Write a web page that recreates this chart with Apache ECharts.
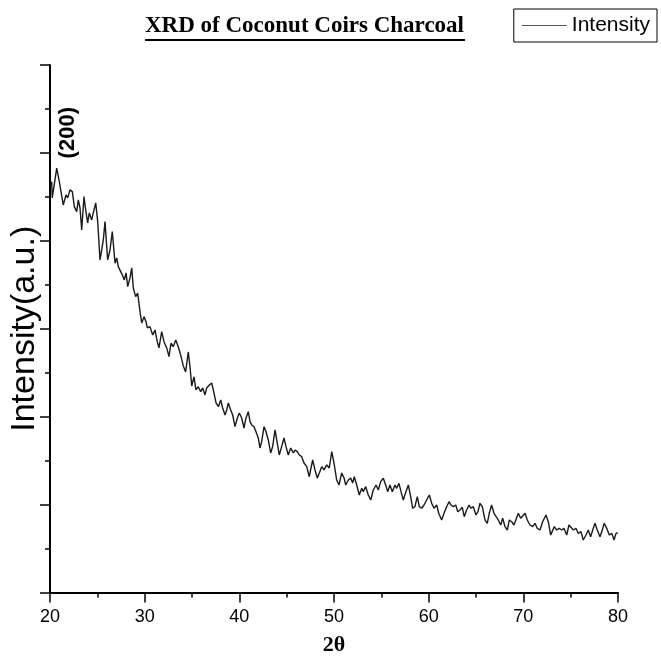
<!DOCTYPE html>
<html><head><meta charset="utf-8">
<script src="https://cdn.jsdelivr.net/npm/echarts@6/dist/echarts.min.js"></script>
<style>html,body{margin:0;padding:0;background:#fff}#c{width:661px;height:667px}</style>
</head><body><div id="c"></div>
<script>
// 2θ positions (degrees)
const twoTheta = [
  20.00,20.18,20.24,20.71,20.95,21.16,21.40,21.69,21.87,22.11,
  22.36,22.57,22.82,22.99,23.17,23.35,23.59,23.77,23.98,24.15,
  24.40,24.57,24.83,25.04,25.28,25.46,25.63,25.81,26.09,26.34,
  26.58,26.87,27.05,27.21,27.47,27.64,27.85,28.03,28.21,28.45,
  28.63,28.80,29.05,29.26,29.51,29.69,29.93,30.14,30.28,30.56,
  30.85,31.09,31.33,31.51,31.80,32.04,32.33,32.57,32.78,33.02,
  33.28,33.55,33.80,34.08,34.33,34.61,34.79,34.97,35.21,35.42,
  35.66,35.92,36.13,36.37,36.55,36.83,37.08,37.25,37.54,37.78,
  38.03,38.24,38.49,38.67,38.83,39.09,39.30,39.54,39.79,40.00,
  40.25,40.49,40.70,40.95,41.13,41.31,41.55,41.76,42.00,42.18,
  42.36,42.61,42.82,43.06,43.31,43.52,43.77,43.95,44.22,44.47,
  44.72,44.93,45.17,45.43,45.70,45.88,46.12,46.33,46.59,46.83,
  47.12,47.39,47.57,47.75,47.99,48.24,48.45,48.70,48.94,49.23,
  49.50,49.76,50.00,50.28,50.53,50.81,51.06,51.24,51.51,51.76,
  51.97,52.14,52.40,52.67,52.93,53.09,53.35,53.62,53.88,54.15,
  54.44,54.68,54.93,55.21,55.46,55.67,55.91,56.16,56.44,56.62,
  56.86,57.08,57.32,57.60,57.85,58.10,58.31,58.55,58.80,59.01,
  59.26,59.51,59.79,60.07,60.32,60.56,60.85,61.06,61.37,61.62,
  61.90,62.15,62.36,62.60,62.86,63.07,63.31,63.55,63.76,64.01,
  64.26,64.47,64.71,65.00,65.21,65.42,65.66,65.95,66.19,66.40,
  66.65,66.90,67.11,67.35,67.61,67.82,68.06,68.31,68.52,68.77,
  69.01,69.22,69.47,69.72,69.93,70.18,70.42,70.70,70.99,71.23,
  71.47,71.76,72.04,72.39,72.64,72.89,73.10,73.27,73.52,73.80,
  74.05,74.29,74.58,74.82,75.03,75.28,75.56,75.80,76.09,76.33,
  76.62,76.86,77.11,77.39,77.57,77.81,78.10,78.34,78.55,78.81,
  79.08,79.34,79.58,79.79,79.97
];
// Intensity (arbitrary units)
const intensity = [
  461.7,467.3,448.8,482.6,469.3,456.0,440.8,452.2,448.8,457.9,
  456.0,438.9,433.2,446.5,437.4,412.4,450.3,435.2,420.4,431.7,
  423.8,431.7,443.1,421.8,378.3,389.6,401.0,421.8,378.3,389.6,
  410.5,374.5,380.5,370.7,365.0,361.2,355.5,363.5,347.9,357.8,
  369.2,346.4,336.5,340.7,319.5,306.6,313.8,308.1,300.9,302.4,
  292.9,298.6,285.3,278.2,296.7,285.3,278.2,268.3,283.5,279.6,
  287.3,279.6,270.2,257.7,250.9,273.6,256.5,234.9,245.2,230.4,
  234.1,228.4,232.7,224.7,232.7,236.1,238.3,230.4,215.6,211.4,
  219.0,209.9,201.9,207.6,215.6,207.6,201.9,188.6,198.5,204.2,
  198.5,187.1,198.5,205.7,194.3,190.6,188.6,182.9,175.8,164.4,
  171.6,188.6,182.9,173.5,158.7,165.9,184.9,173.5,156.4,165.9,
  175.8,165.9,156.4,164.4,158.7,162.1,160.2,156.4,154.5,147.3,
  143.1,131.7,141.6,150.7,139.4,130.3,136.0,143.1,139.4,145.1,
  141.6,160.2,147.3,128.0,122.3,136.0,130.3,122.3,128.0,130.3,
  124.6,131.7,122.3,110.9,118.5,114.7,120.4,110.9,105.2,116.6,
  122.3,116.6,126.1,129.9,122.3,114.7,122.3,114.7,122.3,118.5,
  124.2,114.7,105.2,114.7,122.3,109.0,95.8,97.6,109.0,97.6,
  95.8,99.5,105.2,110.9,101.5,95.8,99.5,90.1,82.5,90.1,
  97.6,103.3,99.5,97.6,99.5,91.9,93.9,96.9,86.2,93.9,
  99.5,95.8,97.6,88.2,91.9,101.5,97.6,82.5,78.7,90.1,
  99.5,90.1,91.9,82.5,76.8,84.4,74.9,71.1,82.5,80.5,
  76.8,78.7,90.1,84.4,86.2,90.1,82.5,76.8,74.9,78.7,
  73.0,71.1,80.5,88.2,80.5,65.4,65.4,74.9,71.1,73.0,
  71.1,73.0,65.4,76.8,74.9,71.1,73.0,67.3,69.2,59.7,
  65.4,71.1,63.5,73.0,78.7,71.1,63.5,71.1,78.7,73.0,
  65.4,67.3,59.7,67.3,68.0
];
const seriesName = 'Intensity';
const chartTitle = 'XRD of Coconut Coirs Charcoal';
const xAxisTitle = '2θ';
const yAxisTitle = 'Intensity(a.u.)';
const peakLabel = '(200)';

const n = Math.min(twoTheta.length, intensity.length);
const points = [];
for (let i = 0; i < n; i++) points.push([twoTheta[i], intensity[i]]);

const SANS = "'Liberation Sans',Arial,sans-serif";
const SERIF = "'Liberation Serif','Times New Roman',serif";
const chart = echarts.init(document.getElementById('c'), null, { renderer: 'canvas' });
chart.setOption({
  animation: false,
  backgroundColor: '#fff',
  title: {
    text: chartTitle,
    left: 145, top: 15, padding: 0,
    textStyle: { fontFamily: SERIF, fontWeight: 'bold', fontSize: 23, color: '#000' }
  },
  legend: {
    right: 4, top: 9,
    borderColor: '#000', borderWidth: 1,
    padding: [6, 7, 6, 8],
    icon: 'rect',
    itemWidth: 45, itemHeight: 1.2,
    itemStyle: { color: '#555' },
    textStyle: { fontFamily: SANS, fontSize: 21, color: '#000' },
    data: [seriesName]
  },
  grid: { left: 50, right: 43, top: 65, bottom: 74.5, containLabel: false },
  xAxis: {
    type: 'value', min: 20, max: 80, interval: 10,
    name: xAxisTitle, nameLocation: 'middle', nameGap: 42,
    nameTextStyle: { fontFamily: SERIF, fontWeight: 'bold', fontSize: 22, color: '#000' },
    axisLine: { show: true, lineStyle: { color: '#000', width: 2 } },
    axisTick: { show: true, length: 10, lineStyle: { color: '#000', width: 1.5 } },
    minorTick: { show: true, splitNumber: 2, length: 5, lineStyle: { color: '#000', width: 1.5 } },
    axisLabel: { fontFamily: SANS, fontSize: 18, color: '#000', margin: 16 },
    splitLine: { show: false }
  },
  yAxis: {
    type: 'value', min: 0, max: 600, interval: 100,
    name: yAxisTitle, nameLocation: 'middle', nameGap: 8,
    nameTextStyle: { fontFamily: SANS, fontSize: 34, color: '#000' },
    axisLine: { show: true, lineStyle: { color: '#000', width: 2 } },
    axisTick: { show: true, length: 10, lineStyle: { color: '#000', width: 1.5 } },
    minorTick: { show: true, splitNumber: 2, length: 5, lineStyle: { color: '#000', width: 1.5 } },
    axisLabel: { show: false },
    splitLine: { show: false }
  },
  series: [{
    name: seriesName,
    type: 'line',
    data: points,
    symbol: 'none',
    showSymbol: false,
    lineStyle: { color: '#1a1a1a', width: 1.4 },
    itemStyle: { color: '#555' }
  }]
});

// Peak annotation, placed in data coordinates
const peakAnchor = [21.9, 523];
const pp = chart.convertToPixel({ gridIndex: 0 }, peakAnchor);
chart.setOption({
  graphic: [
    {
      type: 'text', x: pp[0], y: pp[1], rotation: Math.PI / 2,
      style: { text: peakLabel, fontFamily: SANS, fontWeight: 'bold', fontSize: 22, fill: '#000', align: 'center', verticalAlign: 'middle' }
    },
    {
      type: 'line', shape: { x1: 145, y1: 40, x2: 465, y2: 40 },
      style: { stroke: '#000', lineWidth: 2 }
    }
  ]
});
</script>
</body></html>
